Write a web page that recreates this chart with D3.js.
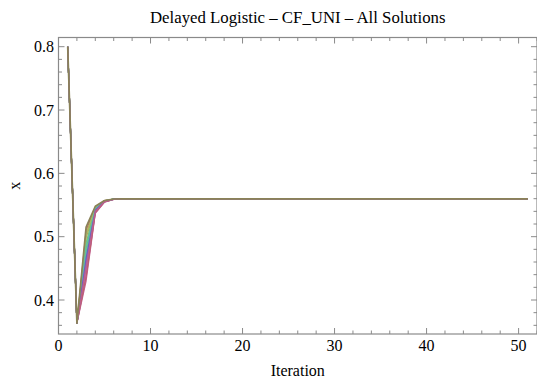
<!DOCTYPE html>
<html>
<head>
<meta charset="utf-8">
<script src="https://cdn.jsdelivr.net/npm/d3@7"></script>
<style>
  body { margin: 0; background: #fff; }
  text { font-family: "Liberation Serif", "Times New Roman", serif; fill: #000; }
</style>
</head>
<body>
<svg id="chart" width="537" height="379"></svg>
<script>
const title = "Delayed Logistic \u2013 CF_UNI \u2013 All Solutions";
const xLabel = "Iteration";
const yLabel = "x";

const xTicks = [0, 10, 20, 30, 40, 50];
const yTicks = [0.4, 0.5, 0.6, 0.7, 0.8];

// one entry per solution, iterations 1..6
const startValue = 0.8;
const iter2 = [0.3635, 0.3635, 0.3635, 0.3635, 0.3635, 0.3635, 0.3635, 0.3635, 0.3635, 0.3635,
               0.3635, 0.3635, 0.3635, 0.3635, 0.3635, 0.3635, 0.3635, 0.3635, 0.3635, 0.3635];
const iter3 = [0.468, 0.430, 0.505, 0.482, 0.455, 0.440, 0.498, 0.475, 0.462, 0.448,
               0.510, 0.490, 0.470, 0.458, 0.436, 0.502, 0.486, 0.466, 0.452, 0.515];
const iter4 = [0.542, 0.537, 0.546, 0.544, 0.541, 0.538, 0.545, 0.543, 0.542, 0.540,
               0.547, 0.545, 0.543, 0.541, 0.538, 0.546, 0.544, 0.542, 0.540, 0.548];
const iter5 = [0.5560, 0.5545, 0.5568, 0.5563, 0.5556, 0.5550, 0.5566, 0.5562, 0.5558, 0.5553,
               0.5569, 0.5565, 0.5560, 0.5557, 0.5548, 0.5567, 0.5564, 0.5559, 0.5554, 0.5571];
const iter6 = [0.5592, 0.5589, 0.5594, 0.5593, 0.5591, 0.5590, 0.5594, 0.5593, 0.5592, 0.5591,
               0.5595, 0.5594, 0.5592, 0.5591, 0.5589, 0.5594, 0.5593, 0.5592, 0.5591, 0.5595];
// every solution sits on the same level from iteration 7 to 51
const steadyValue = 0.5596;
const lastIteration = 51;

const series = iter2.map((_, i) => {
    const vals = [startValue, iter2[i], iter3[i], iter4[i], iter5[i], iter6[i]];
    for (let n = vals.length + 1; n <= lastIteration; n++) vals.push(steadyValue);
    return vals.map((v, j) => ({ n: j + 1, v: v }));
});

// Mathematica-like default style: hue stepped per solution
function hsv(h, s, v) {
    const f = (k) => {
        const kk = (k + h * 6) % 6;
        return v - v * s * Math.max(0, Math.min(kk, 4 - kk, 1));
    };
    return d3.rgb(f(5) * 255, f(3) * 255, f(1) * 255).formatHex();
}
const colors = series.map((_, i) => hsv((0.67 + 0.2364 * i) % 1, 0.5, 0.75));
const lastIdx = colors.length - 1;
colors[lastIdx] = "#8a8258";

const svg = d3.select("#chart");
const frameLeft = 58.5, frameRight = 537, frameTop = 37.5, frameBottom = 334;
const frameColor = "#8a8a8a";

const x = d3.scaleLinear().domain([0, 52]).range([frameLeft, frameRight]);
const y = d3.scaleLinear().domain([0.4, 0.8]).range([300, 46.7]);

// frame
svg.append("rect")
    .attr("x", frameLeft).attr("y", frameTop)
    .attr("width", frameRight - frameLeft).attr("height", frameBottom - frameTop)
    .attr("fill", "none").attr("stroke", frameColor).attr("stroke-width", 1.2);

// ticks on all four sides
const xMinor = d3.range(0, 53, 2);
const yMinor = d3.range(0.36, 0.8101, 0.02);
const isMajorX = (t) => t % 10 === 0;
const isMajorY = (t) => Math.abs(t * 10 - Math.round(t * 10)) < 1e-6;

const ticks = svg.append("g").attr("stroke", frameColor).attr("stroke-width", 1);
xMinor.forEach((t) => {
    const len = isMajorX(t) ? 6 : 3.5;
    ticks.append("line").attr("x1", x(t)).attr("x2", x(t)).attr("y1", frameBottom).attr("y2", frameBottom - len);
    ticks.append("line").attr("x1", x(t)).attr("x2", x(t)).attr("y1", frameTop).attr("y2", frameTop + len);
});
yMinor.forEach((t) => {
    if (y(t) > frameBottom || y(t) < frameTop) return;
    const len = isMajorY(t) ? 6 : 3.5;
    ticks.append("line").attr("x1", frameLeft).attr("x2", frameLeft + len).attr("y1", y(t)).attr("y2", y(t));
    ticks.append("line").attr("x1", frameRight).attr("x2", frameRight - len).attr("y1", y(t)).attr("y2", y(t));
});

// tick labels
svg.append("g").selectAll("text").data(xTicks).enter().append("text")
    .attr("x", (d) => x(d)).attr("y", 351)
    .attr("text-anchor", "middle").attr("font-size", 16)
    .text((d) => d);

svg.append("g").selectAll("text").data(yTicks).enter().append("text")
    .attr("x", frameLeft - 4.5).attr("y", (d) => y(d) + 5.5)
    .attr("text-anchor", "end").attr("font-size", 16)
    .text((d) => d3.format(".1f")(d));

// lines
const line = d3.line().x((d) => x(d.n)).y((d) => y(d.v));
svg.append("g").selectAll("path").data(series).enter().append("path")
    .attr("d", line)
    .attr("fill", "none")
    .attr("stroke", (d, i) => colors[i])
    .attr("stroke-width", (d, i) => (i === lastIdx ? 1.7 : 1.2))
    .attr("stroke-linejoin", "round");

// labels
svg.append("text").attr("x", (frameLeft + frameRight) / 2).attr("y", 23)
    .attr("text-anchor", "middle").attr("font-size", 16.8).text(title);
svg.append("text").attr("x", (frameLeft + frameRight) / 2).attr("y", 376)
    .attr("text-anchor", "middle").attr("font-size", 16).text(xLabel);
svg.append("text").attr("transform", `translate(20,${(frameTop + frameBottom) / 2}) rotate(-90)`)
    .attr("text-anchor", "middle").attr("font-size", 16).text(yLabel);
</script>
</body>
</html>
